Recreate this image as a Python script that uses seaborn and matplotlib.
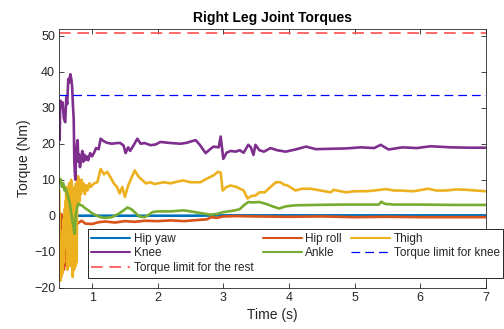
import matplotlib
matplotlib.use("Agg")
import matplotlib.pyplot as plt
from matplotlib.lines import Line2D
import numpy as np
import pandas as pd
import seaborn as sns

# ---------------- data ----------------
yaw_t = [0.50, 0.53, 0.56, 0.58, 0.60, 0.62, 0.64, 0.66, 0.69, 0.71, 0.73, 0.76, 0.80, 1.0, 1.5, 2.0, 2.5,
         3.0, 3.5, 4.0, 4.5, 5.0, 5.5, 6.0, 6.5, 7.0]
yaw_v = [0.0, 0.3, -0.8, -1.8, -2.5, -2.4, -2.0, -1.4, -0.8, 0.2, 0.4, 0.1, 0.0, 0.0, 0.0, 0.0, 0.0,
         0.1, 0.1, 0.1, 0.1, 0.1, 0.1, 0.1, 0.1, 0.1]

roll_t = [0.50, 0.505, 0.51, 0.515, 0.52, 0.525, 0.53, 0.535, 0.54, 0.55, 0.56, 0.57, 0.575, 0.58,
          0.59, 0.60, 0.61, 0.62, 0.63, 0.64, 0.65, 0.66, 0.67, 0.68, 0.69, 0.70, 0.71, 0.72, 0.74,
          0.76, 0.79, 0.84, 0.90, 1.00, 1.10, 1.20, 1.35, 1.50, 1.65, 1.80, 2.00, 2.20, 2.40,
          2.60, 2.75, 2.82, 2.90, 3.00, 3.20, 3.50, 4.00, 4.50, 5.00, 5.50, 6.00, 6.50, 7.00]
roll_v = [-10.0, -15.5, -11.0, -14.0, -6.0, -2.0, 0.5, -1.0, -4.0, -8.0, -12.0, -15.0, -13.0, -14.0,
          -10.0, -7.0, -5.0, -3.0, -6.0, -9.0, -7.0, -10.0, -8.0, -5.0, -7.0, -4.0, -3.0, -5.0, -3.0,
          -2.5, -2.0, -1.4, -2.2, -2.3, -1.8, -1.6, -1.9, -1.5, -1.7, -1.4, -1.5, -1.3, -1.5,
          -1.2, -1.0, -0.4, -0.6, -0.2, -0.1, -0.2, -0.3, -0.2, -0.4, -0.3, -0.4, -0.4, -0.4]

thigh_t = [0.50, 0.505, 0.51, 0.515, 0.52, 0.525, 0.53, 0.535, 0.54, 0.545, 0.55, 0.555, 0.56,
           0.565, 0.57, 0.575, 0.58, 0.585, 0.59, 0.595, 0.60, 0.605, 0.61, 0.615, 0.62, 0.625,
           0.63, 0.635, 0.64, 0.645, 0.65, 0.655, 0.66, 0.665, 0.67, 0.675, 0.68, 0.685, 0.69,
           0.695, 0.70, 0.705, 0.71, 0.715, 0.72, 0.725, 0.73, 0.735, 0.74, 0.745, 0.75, 0.755,
           0.76, 0.765, 0.77, 0.775, 0.78, 0.785, 0.79, 0.80, 0.81, 0.82, 0.83, 0.84, 0.85, 0.87,
           0.89, 0.91, 0.93, 0.96, 0.98,
           1.03, 1.08, 1.13, 1.18, 1.23, 1.28, 1.33, 1.38, 1.42, 1.46,
           1.50, 1.55, 1.60, 1.65, 1.71, 1.76, 1.82, 1.89, 1.95, 2.09, 2.20, 2.30, 2.39, 2.50, 2.65,
           2.75, 2.85, 2.92, 2.96, 2.99, 3.05, 3.11, 3.20, 3.31, 3.37, 3.43, 3.49, 3.55, 3.63, 3.72,
           3.80, 3.87, 3.93, 3.98, 4.10, 4.20, 4.33, 4.49, 4.64, 4.68, 4.87, 5.00, 5.17, 5.30, 5.48,
           5.60, 5.70, 5.90, 6.12, 6.25, 6.39, 6.55, 6.70, 6.85, 7.00]
thigh_v = [7.0, -5.0, -15.0, -8.0, -18.0, -12.0, -17.0, -6.0, -14.0, -9.0, -16.0, -4.0, -11.0,
           -1.0, -13.0, -3.0, -9.0, 2.0, -7.0, 4.0, -3.0, 8.0, -2.0, 5.0, -6.0, -15.0,
           -8.0, -1.0, -10.0, 3.0, 9.0, -4.0, -14.0, -6.0, 5.0, -2.0, 10.0, 2.0, 9.0,
           -3.0, -12.0, -17.0, -8.0, 6.0, -5.0, -15.0, 0.0, 8.0, -6.0, -14.0, 2.0, 9.0,
           -3.0, -13.0, 4.0, 10.0, 3.0, 11.0, 6.0, 10.0, 4.0, 9.0, 6.0, 10.0, 7.0, 9.0,
           6.0, 8.5, 7.0, 9.0, 8.0,
           9.0, 9.3, 13.0, 11.5, 12.2, 10.7, 9.0, 8.0, 6.2, 8.0,
           5.2, 8.4, 10.5, 12.6, 10.8, 10.0, 9.0, 9.3, 8.8, 9.3, 9.0, 9.5, 9.8, 9.3, 9.3,
           10.3, 11.2, 12.2, 12.0, 7.0, 8.0, 8.4, 8.0, 7.0, 4.8, 5.5, 5.6, 6.5, 6.5, 8.0,
           9.3, 9.3, 8.6, 8.4, 7.0, 7.5, 7.5, 7.0, 6.5, 7.2, 6.5, 6.8, 6.8, 7.0, 7.4,
           7.0, 7.0, 6.8, 7.5, 7.0, 7.0, 7.3, 7.2, 7.0, 6.8]

knee_t = [0.50, 0.505, 0.515, 0.53, 0.55, 0.57, 0.59, 0.607, 0.62, 0.637, 0.65, 0.668, 0.683, 0.695,
          0.71, 0.72, 0.729, 0.737, 0.744, 0.755, 0.77, 0.78, 0.79, 0.80, 0.815, 0.836, 0.85, 0.865,
          0.88, 0.90, 0.92, 0.94, 0.97, 1.00, 1.03, 1.06, 1.10, 1.13, 1.17, 1.22, 1.30, 1.38, 1.43,
          1.48, 1.51, 1.55, 1.58, 1.63, 1.69, 1.74, 1.80, 1.89, 1.97, 2.04, 2.20, 2.35, 2.45, 2.50,
          2.58, 2.65, 2.73, 2.80, 2.85, 2.93, 2.96, 3.00, 3.05, 3.11, 3.19, 3.25, 3.31, 3.38, 3.42,
          3.46, 3.49, 3.55, 3.62, 3.72, 3.82, 3.95, 4.10, 4.26, 4.41, 4.64, 4.87, 5.10, 5.30, 5.40,
          5.52, 5.73, 5.95, 6.16, 6.47, 6.75, 7.00]
knee_v = [26.0, 21.0, 32.0, 30.0, 31.5, 27.0, 26.0, 33.0, 31.0, 38.0, 37.0, 39.3, 38.0, 36.0,
          30.0, 26.7, 15.0, 12.0, 10.0, 16.0, 20.0, 21.0, 15.0, 17.0, 13.5, 16.0, 18.0, 15.0,
          17.0, 15.5, 16.5, 15.4, 17.4, 16.5, 17.5, 18.8, 18.5, 21.4, 20.8, 20.3, 20.0, 20.2, 20.2,
          19.5, 17.4, 19.0, 18.0, 19.5, 21.4, 20.0, 20.2, 19.6, 19.8, 20.5, 20.2, 20.0, 20.3, 20.6,
          21.0, 19.5, 17.4, 18.5, 19.2, 19.0, 22.0, 15.8, 17.5, 18.0, 17.8, 18.2, 17.5, 19.7, 19.0,
          16.9, 19.7, 18.2, 17.8, 18.8, 18.2, 17.8, 18.4, 19.2, 18.5, 18.6, 18.7, 19.0, 18.8, 19.7,
          18.4, 19.0, 18.8, 19.3, 19.0, 18.9, 18.9]

ankle_t = [0.50, 0.52, 0.54, 0.56, 0.58, 0.60, 0.62, 0.64, 0.66, 0.68, 0.70, 0.72, 0.735, 0.75,
           0.77, 0.79, 0.82, 0.85, 0.90, 0.95, 1.00, 1.05, 1.10, 1.15, 1.20, 1.30, 1.40, 1.48,
           1.54, 1.60, 1.66, 1.72, 1.80, 1.86, 1.92, 2.00, 2.20, 2.40, 2.50, 2.70, 2.80, 2.90,
           3.00, 3.15, 3.25, 3.32, 3.38, 3.45, 3.55, 3.65, 3.75, 3.85, 3.95, 4.10, 4.40, 4.80,
           5.20, 5.37, 5.41, 5.46, 5.60, 6.00, 6.50, 7.00]
ankle_v = [9.5, 10.2, 8.0, 9.0, 7.0, 7.5, 6.0, 5.0, 3.4, 1.0, -1.4, -3.7, -5.0, 0.0,
           2.3, 3.4, 3.0, 2.8, 2.0, 1.4, 0.7, 0.2, -0.2, -0.5, -0.6, -0.4, 0.5, 1.5,
           2.3, 1.8, 0.8, -0.2, -0.4, 0.2, 1.0, 1.2, 1.2, 1.5, 1.2, 0.6, 0.3, 0.5,
           1.0, 1.4, 1.8, 3.0, 3.8, 3.7, 3.8, 3.3, 2.6, 2.0, 2.6, 2.9, 3.0, 3.1,
           3.1, 3.1, 3.9, 3.3, 3.1, 3.1, 3.0, 3.0]

knee_limit = 33.5
rest_limit = 50.8

joints = ["Hip yaw", "Hip roll", "Thigh", "Knee", "Ankle"]
colors = ["#0072BD", "#D95319", "#EDB120", "#7E2F8E", "#77AC30"]

frames = []
for name, tt, vv in zip(joints, [yaw_t, roll_t, thigh_t, knee_t, ankle_t],
                        [yaw_v, roll_v, thigh_v, knee_v, ankle_v]):
    frames.append(pd.DataFrame({"Time": tt, "Torque": vv, "Joint": name}))
df = pd.concat(frames, ignore_index=True)

# ---------------- plotting ----------------
sns.set_theme(style="ticks")
plt.rcParams["font.family"] = ["Liberation Sans", "DejaVu Sans"]

fig = plt.figure(figsize=(5.04, 3.29), dpi=100)
ax = fig.add_axes([59.3 / 504, 1 - 287.7 / 329, (485.7 - 59.3) / 504, (287.7 - 29.3) / 329])

sns.lineplot(data=df, x="Time", y="Torque", hue="Joint", hue_order=joints,
             palette=dict(zip(joints, colors)), estimator=None, sort=False,
             linewidth=1.9, ax=ax, legend=False)

ax.axhline(knee_limit, color="#0000ff", ls=(0, (7, 4)), lw=0.9)
ax.axhline(rest_limit, color="#ff5050", ls=(0, (7, 4)), lw=1.2)

ax.set_xlim(0.5, 7.0)
ax.set_ylim(-20, 51.8)
ax.set_xticks(range(1, 8))
ax.set_yticks(range(-20, 51, 10))
ax.tick_params(direction="in", top=True, right=True, length=3.5, width=0.6,
               labelsize=9, colors="#262626", pad=3)
for s in ax.spines.values():
    s.set_linewidth(0.6)
    s.set_color("#262626")

ax.set_xlabel("Time (s)", fontsize=10, color="#262626", labelpad=3)
ax.set_ylabel("Torque (Nm)", fontsize=10, color="#262626", labelpad=2)
ax.set_title("Right Leg Joint Torques", fontsize=10, fontweight="bold", color="black", pad=5)

h = {n: Line2D([], [], color=c, lw=1.5) for n, c in zip(joints, colors)}
h_knee_lim = Line2D([], [], color="#0000ff", ls=(0, (7, 4)), lw=0.9)
h_rest_lim = Line2D([], [], color="#ff5050", ls=(0, (7, 4)), lw=1.2)
handles = [h["Hip yaw"], h["Knee"], h_rest_lim, h["Hip roll"], h["Ankle"], h["Thigh"], h_knee_lim]
labels = ["Hip yaw", "Knee", "Torque limit for the rest", "Hip roll", "Ankle", "Thigh",
          "Torque limit for knee"]
leg = fig.legend(handles, labels, ncol=3, loc="upper left",
                 bbox_to_anchor=(87.7 / 504, 1 - 229.3 / 329), bbox_transform=fig.transFigure,
                 fontsize=8.5, frameon=True, fancybox=False, edgecolor="#262626",
                 framealpha=1, borderpad=0.3, labelspacing=0.22, handlelength=3.3,
                 handletextpad=0.3, columnspacing=0.8, borderaxespad=0)
leg.get_frame().set_linewidth(0.7)

fig.savefig("out.png", dpi=100)
